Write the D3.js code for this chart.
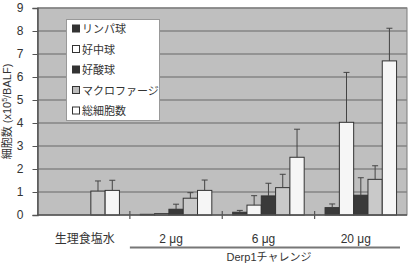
<!DOCTYPE html>
<html><head><meta charset="utf-8">
<script src="https://cdn.jsdelivr.net/npm/d3@7"></script>
<style>body{margin:0;background:#fff}svg{display:block}text{font-family:"Liberation Sans","Noto Sans CJK JP",sans-serif;fill:#333}</style>
</head><body><svg id="c" width="409" height="264"></svg>
<script>
const groups = ["生理食塩水", "2 μg", "6 μg", "20 μg"];
const series = ["リンパ球", "好中球", "好酸球", "マクロファージ", "総細胞数"];
const lymph   = [0.0, 0.03, 0.12, 0.32];
const neutro  = [0.0, 0.06, 0.43, 4.03];
const eos     = [0.0, 0.25, 0.83, 0.86];
const macro   = [1.04, 0.73, 1.19, 1.55];
const total   = [1.07, 1.07, 2.51, 6.70];
const lymphErr  = [0.0, 0.0, 0.08, 0.16];
const neutroErr = [0.0, 0.0, 0.41, 2.17];
const eosErr    = [0.0, 0.22, 0.55, 0.76];
const macroErr  = [0.44, 0.24, 0.58, 0.59];
const totalErr  = [0.44, 0.45, 1.22, 1.42];
const yTicks = [0,1,2,3,4,5,6,7,8,9];
const challengeLabel = "Derp1チャレンジ";

const values = [lymph, neutro, eos, macro, total];
const errs = [lymphErr, neutroErr, eosErr, macroErr, totalErr];
const fills = ["#3a3a3a", "#f6f6f6", "#3a3a3a", "#c9c9c9", "#f6f6f6"];

const svg = d3.select("#c");
const L = 37.5, R = 407, T = 8, B = 215;
const x0 = d3.scaleBand().domain(groups).range([L, R]).padding(0);
const x1 = d3.scaleBand().domain(series).range([0, x0.bandwidth()]).paddingInner(0).paddingOuter(0.73);
const y = d3.scaleLinear().domain([0, 9]).range([B, T]);

svg.append("rect").attr("x", L).attr("y", T).attr("width", R - L).attr("height", B - T)
  .attr("fill", "#bfbfbf").attr("stroke", "#7a7a7a").attr("stroke-width", 1);

svg.append("g").selectAll("line").data(yTicks.filter(d => d > 0)).join("line")
  .attr("x1", L).attr("x2", R).attr("y1", d => y(d)).attr("y2", d => y(d))
  .attr("stroke", "#858585").attr("stroke-width", 1.3);

// y axis
const ya = svg.append("g").attr("transform", `translate(${L},0)`)
  .call(d3.axisLeft(y).tickValues(yTicks).tickSize(5).tickPadding(9).tickFormat(d3.format("d")));
ya.select(".domain").attr("stroke", "#555").attr("stroke-width", 1.5);
ya.selectAll(".tick line").attr("stroke", "#555");
ya.selectAll(".tick text").attr("font-size", 12).style("fill", "#333").attr("font-family", "Liberation Sans, sans-serif");

// bars
const items = [];
groups.forEach((g, gi) => series.forEach((s, si) => items.push({g, s, si, v: values[si][gi], e: errs[si][gi]})));
const barG = svg.append("g");
barG.selectAll("rect").data(items).join("rect")
  .attr("x", d => x0(d.g) + x1(d.s)).attr("width", x1.bandwidth())
  .attr("y", d => y(d.v)).attr("height", d => Math.max(0, y(0) - y(d.v)))
  .attr("fill", d => fills[d.si]).attr("stroke", "#333").attr("stroke-width", 1);
const errG = svg.append("g").attr("stroke", "#444").attr("stroke-width", 1);
items.filter(d => d.e > 0).forEach(d => {
  const cx = x0(d.g) + x1(d.s) + x1.bandwidth() / 2;
  errG.append("line").attr("x1", cx).attr("x2", cx).attr("y1", y(d.v)).attr("y2", y(d.v + d.e));
  errG.append("line").attr("x1", cx - 3).attr("x2", cx + 3).attr("y1", y(d.v + d.e)).attr("y2", y(d.v + d.e));
});

// x axis
svg.append("line").attr("x1", L).attr("x2", R).attr("y1", B).attr("y2", B).attr("stroke", "#555").attr("stroke-width", 1.5);
svg.append("g").selectAll("line").data(groups.slice(1)).join("line")
  .attr("x1", d => x0(d)).attr("x2", d => x0(d)).attr("y1", B - 4).attr("y2", B + 4)
  .attr("stroke", "#555").attr("stroke-width", 1.2);
svg.append("g").selectAll("text").data(groups).join("text")
  .attr("x", (d, i) => x0(d) + x0.bandwidth() / 2 + (i === 0 ? 1 : -5)).attr("y", 243)
  .attr("text-anchor", "middle").attr("font-size", 12).text(d => d);

svg.append("line").attr("x1", x0(groups[1])).attr("x2", 400).attr("y1", 247.5).attr("y2", 247.5)
  .attr("stroke", "#777").attr("stroke-width", 2);
svg.append("text").attr("x", 269).attr("y", 261).attr("text-anchor", "middle").attr("font-size", 11).text(challengeLabel);

// y title
svg.append("text").attr("transform", `translate(11,${(T + B) / 2}) rotate(-90)`)
  .attr("text-anchor", "middle").attr("font-size", 11)
  .html('細胞数 (x10<tspan dy="-4" font-size="7">5</tspan><tspan dy="4">/BALF)</tspan>');

// legend
const lg = svg.append("g");
lg.append("rect").attr("x", 66.5).attr("y", 19.5).attr("width", 93).attr("height", 101)
  .attr("fill", "#fff").attr("stroke", "#999");
const ly = d3.scalePoint().domain(series).range([29, 111]);
series.forEach((s, i) => {
  lg.append("rect").attr("x", 72.5).attr("y", ly(s) - 4).attr("width", 7).attr("height", 7)
    .attr("fill", i === 0 || i === 2 ? "#333" : (i === 3 ? "#bdbdbd" : "#fff")).attr("stroke", "#333").attr("stroke-width", 1);
  lg.append("text").attr("x", 82).attr("y", ly(s) + 4).attr("font-size", 11).text(s);
});
</script></body></html>
